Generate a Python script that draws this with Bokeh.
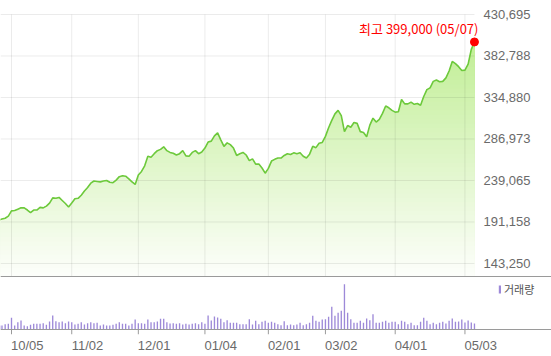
import numpy as np
from bokeh.plotting import figure
from bokeh.models import Range1d, FixedTicker, Label, Legend, LegendItem, LinearAxis
from bokeh.embed import file_html
from bokeh.resources import INLINE

# ---------------- data ----------------
price = [
    193500, 194500, 195500, 198000, 204000, 204500, 206000, 207500, 207500, 205000,
    202000, 205000, 205000, 208000, 207500, 209500, 213000, 219000, 218500, 219500,
    216000, 212500, 208500, 213000, 218000, 218500, 222000, 227000, 231000, 236000,
    238500, 238000, 237500, 238500, 239000, 237000, 236500, 239500, 243500, 244500,
    244000, 241000, 237500, 234500, 245500, 249500, 256000, 267000, 266000, 270000,
    273500, 275000, 278000, 273500, 271500, 270500, 268500, 270000, 273500, 267500,
    267000, 271500, 273500, 270000, 272000, 276500, 283500, 284500, 290500, 294000,
    286000, 278500, 282500, 280500, 276500, 268000, 270000, 271500, 268500, 262000,
    264000, 258000, 258000, 253500, 247500, 253000, 261500, 263500, 265000, 265000,
    268000, 270000, 269000, 271000, 270000, 271000, 267000, 265000, 269500, 278500,
    277000, 282000, 283000, 290000, 300000, 308500, 316000, 320000, 314000, 295500,
    302500, 300500, 306000, 305000, 295500, 294500, 289500, 303000, 311000, 306500,
    309500, 316500, 325000, 323000, 320000, 318000, 318500, 332500, 327500, 327500,
    329500, 327000, 328000, 326000, 336000, 344000, 346000, 353500, 355000, 353000,
    353500, 357500, 365500, 376500, 374000, 370500, 366000, 366500, 373500, 390500,
    399000,
]
volume = [
    40, 40, 53, 57, 117, 40, 73, 90, 40, 33,
    47, 57, 57, 57, 63, 47, 80, 140, 83, 73,
    80, 63, 80, 73, 50, 57, 73, 50, 63, 73,
    63, 67, 40, 50, 40, 40, 47, 57, 73, 57,
    57, 40, 57, 100, 63, 63, 57, 100, 73, 73,
    80, 107, 107, 73, 60, 63, 57, 63, 50, 57,
    50, 57, 63, 53, 73, 57, 140, 90, 130, 120,
    107, 73, 93, 67, 67, 67, 53, 53, 53, 103,
    50, 87, 53, 77, 87, 67, 77, 67, 53, 43,
    83, 43, 50, 43, 50, 67, 43, 53, 67, 137,
    87, 77, 100, 103, 127, 227, 137, 167, 187, 453,
    167, 103, 67, 67, 87, 67, 110, 93, 153, 67,
    67, 77, 87, 67, 77, 77, 53, 87, 77, 53,
    67, 43, 43, 77, 117, 87, 53, 67, 53, 67,
    77, 60, 87, 110, 77, 80, 100, 70, 90, 70,
    60,
]
tick_idx = [4, 23, 44, 65, 85, 103, 125, 147]
tick_labels = ["10/05", "11/02", "12/01", "01/04", "02/01", "03/02", "04/01", "05/03"]
price_ticks = [143250, 191158, 239065, 286973, 334880, 382788, 430695]
peak_date = "05/07"
volume_label = "거래량"

# ---------------- layout (pixels) ----------------
W, H = 551, 356
FRAME_H = 334          # frame includes the tick marks under the volume baseline
PX_PER_DAY = 3.171
FIRST_TICK_PX = 11
TOP_TICK_PX = 14
GRID_STEP_PX = 41.5
PRICE_BOTTOM_PX = 276
VOL_BASE_PX = 329
TICK_LEN_PX = 5
VOL_UNITS_PER_PX = 10.0
LABEL_SHIFT_PX = 15.8  # date labels start at their tick

idx = np.arange(len(price))
price_a = np.array(price, dtype=float)
vol_a = np.array(volume, dtype=float)

x_start = tick_idx[0] - FIRST_TICK_PX / PX_PER_DAY
x_end = x_start + W / PX_PER_DAY
upp = (price_ticks[1] - price_ticks[0]) / GRID_STEP_PX
y_end = price_ticks[-1] + TOP_TICK_PX * upp
y_start = y_end - FRAME_H * upp
floor_v = y_end - PRICE_BOTTOM_PX * upp
vol_start = -(FRAME_H - VOL_BASE_PX) * VOL_UNITS_PER_PX
vol_end = VOL_BASE_PX * VOL_UNITS_PER_PX
shift = LABEL_SHIFT_PX / PX_PER_DAY

p = figure(width=W, height=H, x_range=Range1d(x_start, x_end),
           y_range=Range1d(y_start, y_end), output_backend="svg",
           toolbar_location=None, x_axis_location=None, y_axis_location=None,
           min_border=0, min_border_bottom=H - FRAME_H)
p.extra_y_ranges = {"vol": Range1d(vol_start, vol_end)}
p.extra_x_ranges = {"lab": Range1d(x_start - shift, x_end - shift)}
p.grid.visible = False
p.outline_line_color = None
p.background_fill_color = "white"
p.border_fill_color = "white"

# gradient fill under the price line (stacked bands, top first)
N = 60
c_top = np.array([186, 236, 138])
c_bot = np.array([253, 254, 251])
levels = np.linspace(floor_v, price_ticks[-1], N + 1)
for k in range(N, 0, -1):
    t = (k - 0.5) / N
    c = c_bot + (c_top - c_bot) * t
    col = "#%02x%02x%02x" % tuple(int(round(v)) for v in c)
    p.varea(x=idx, y1=np.full(len(idx), floor_v),
            y2=np.clip(price_a, floor_v, levels[k]), fill_color=col)

# grid lines
p.segment(x0=[x_start] * len(price_ticks), x1=[idx[-1]] * len(price_ticks),
          y0=price_ticks, y1=price_ticks, line_color="black", line_alpha=0.08, line_width=1)
p.segment(x0=tick_idx, x1=tick_idx, y0=[floor_v] * len(tick_idx),
          y1=[price_ticks[-1]] * len(tick_idx), line_color="black", line_alpha=0.08, line_width=1)

# separator between price and volume panels
p.segment(x0=[x_start], x1=[x_end], y0=[floor_v], y1=[floor_v], line_color="#9a9a9a", line_width=1)

# price line
p.line(idx, price_a, line_color="#6dc93c", line_width=1.6)

# peak marker and annotation
imax = int(np.argmax(price_a))
p.scatter([idx[imax]], [price_a[imax]], size=8, color="#ff0000")
p.add_layout(Label(x=idx[imax], y=price_a[imax], x_offset=4, y_offset=13.5,
                   text=f"최고 {int(price_a[imax]):,} ({peak_date})",
                   text_align="right", text_baseline="middle", text_color="#ff0000",
                   text_font="Noto Sans CJK KR", text_font_size="13px"))

# price tick labels (right side)
for v in price_ticks:
    p.add_layout(Label(x=483, x_units="screen", y=v, text=f"{v:,}",
                       text_baseline="middle", text_align="left",
                       text_color="#6a6a6a", text_font="Liberation Sans",
                       text_font_size="13px"))

# volume bars
vb = p.vbar(x=idx, top=vol_a, bottom=0, width=0.42, fill_color="#9d89d8",
            line_color=None, y_range_name="vol")

# volume baseline and date tick marks
p.segment(x0=[x_start], x1=[x_end], y0=[0], y1=[0], line_color="#9a9a9a",
          line_width=1, y_range_name="vol")
p.segment(x0=tick_idx, x1=tick_idx, y0=[0] * len(tick_idx),
          y1=[-TICK_LEN_PX * VOL_UNITS_PER_PX] * len(tick_idx),
          line_color="#9a9a9a", line_width=1, y_range_name="vol")

legend = Legend(items=[LegendItem(label=volume_label, renderers=[vb])],
                location=(498, FRAME_H - 297), padding=0, margin=0, spacing=0,
                glyph_width=3, glyph_height=10, label_standoff=3,
                label_height=10, label_width=10,
                background_fill_alpha=0, border_line_alpha=0,
                label_text_font="Noto Sans CJK KR", label_text_font_size="11px",
                label_text_color="#555555")
p.add_layout(legend)

# date labels: an axis on a shifted range so each label starts at its tick
ax = LinearAxis(x_range_name="lab", ticker=FixedTicker(ticks=tick_idx),
                major_label_overrides={i: l for i, l in zip(tick_idx, tick_labels)})
ax.axis_line_color = None
ax.major_tick_line_color = None
ax.minor_tick_line_color = None
ax.major_tick_in = 0
ax.major_tick_out = 0
ax.major_label_standoff = 3
ax.major_label_text_font = "Liberation Sans"
ax.major_label_text_font_size = "13px"
ax.major_label_text_color = "#6a6a6a"
p.add_layout(ax, "below")

open("out.html", "w").write(file_html(p, INLINE))
